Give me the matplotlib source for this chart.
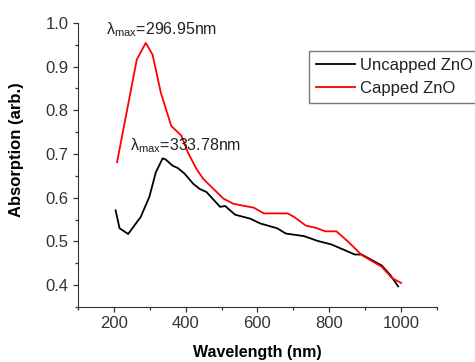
import numpy as np
import matplotlib.pyplot as plt
from matplotlib.ticker import MultipleLocator

# Uncapped ZnO (black)
wl_uncapped = [205, 216, 240, 275, 299, 317, 336, 345, 364, 378, 397, 421, 439, 458,
               496, 510, 538, 580, 608, 655, 679, 730, 768, 806, 843, 871, 890, 946,
               970, 992]
abs_uncapped = [0.571, 0.530, 0.517, 0.556, 0.602, 0.658, 0.690, 0.687, 0.673, 0.668,
                0.655, 0.632, 0.620, 0.613, 0.579, 0.581, 0.561, 0.552, 0.541, 0.530,
                0.518, 0.512, 0.501, 0.493, 0.480, 0.470, 0.470, 0.445, 0.423, 0.397]

# Capped ZnO (red)
wl_capped = [209, 264, 289, 308, 331, 360, 388, 406, 430, 449, 505, 533, 590, 618,
             684, 702, 735, 763, 789, 820, 853, 890, 946, 975, 1000]
abs_capped = [0.681, 0.916, 0.954, 0.927, 0.840, 0.764, 0.742, 0.704, 0.666, 0.643,
              0.598, 0.586, 0.577, 0.564, 0.564, 0.556, 0.536, 0.531, 0.523, 0.523,
              0.499, 0.469, 0.442, 0.416, 0.405]

plt.rcParams['font.family'] = ['Liberation Sans', 'DejaVu Sans']
plt.rcParams['mathtext.fontset'] = 'custom'
plt.rcParams['mathtext.rm'] = 'Liberation Sans'
plt.rcParams['axes.edgecolor'] = '#333333'
plt.rcParams['xtick.color'] = '#333333'
plt.rcParams['ytick.color'] = '#333333'
plt.rcParams['text.color'] = '#222222'

fig = plt.figure(figsize=(4.75, 3.62), dpi=100)
ax = fig.add_axes([0.164, 0.152, 0.756, 0.785])

ax.plot(wl_uncapped, abs_uncapped, color='black', lw=1.3, label='Uncapped ZnO')
ax.plot(wl_capped, abs_capped, color='red', lw=1.3, label='Capped ZnO')

ax.set_xlim(100, 1100)
ax.set_ylim(0.35, 1.0)
ax.xaxis.set_major_locator(MultipleLocator(200))
ax.xaxis.set_minor_locator(MultipleLocator(100))
ax.yaxis.set_major_locator(MultipleLocator(0.1))
ax.yaxis.set_minor_locator(MultipleLocator(0.05))
ax.set_xticks([200, 400, 600, 800, 1000])
ax.tick_params(which='major', direction='out', length=3.6, width=0.9, labelsize=12, pad=3)
ax.tick_params(which='minor', direction='out', length=2.2, width=0.9)
ax.spines['top'].set_visible(False)
ax.spines['right'].set_visible(False)

ax.set_xlabel('Wavelength (nm)', fontsize=11.5, fontweight='bold')
ax.set_ylabel('Absorption (arb.)', fontsize=12, fontweight='bold')
ax.xaxis.set_label_coords(0.5, -0.135)
ax.yaxis.set_label_coords(-0.15, 0.553)

ax.text(177, 0.984, 'λ$_{\\rm max}$=296.95nm', fontsize=11.5, ha='left', va='center')
ax.text(245, 0.718, 'λ$_{\\rm max}$=333.78nm', fontsize=11.5, ha='left', va='center')

leg = ax.legend(loc='upper left', bbox_to_anchor=(0.65, 0.86), bbox_transform=fig.transFigure,
                fontsize=12, frameon=True, fancybox=False, handlelength=2.3,
                borderaxespad=0, borderpad=0.45, labelspacing=0.45, handletextpad=0.3)
leg.get_frame().set_edgecolor('#555555')
leg.get_frame().set_linewidth(1)

plt.savefig('out.png', dpi=100)
